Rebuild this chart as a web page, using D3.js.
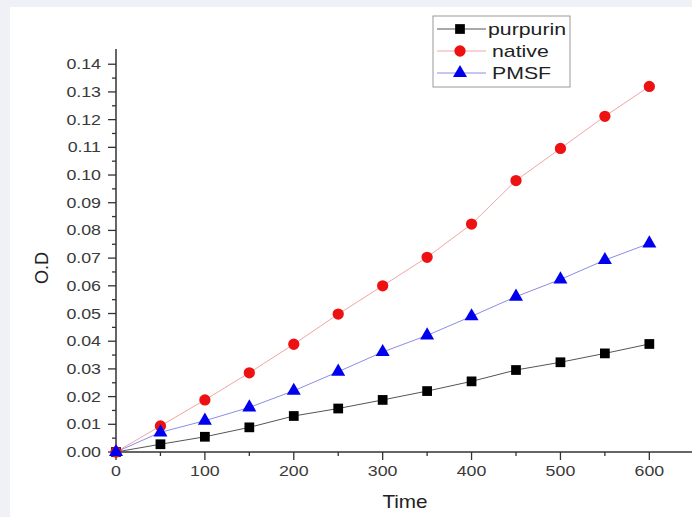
<!DOCTYPE html>
<html><head><meta charset="utf-8">
<script src="https://cdn.jsdelivr.net/npm/d3@7"></script>
<style>
html,body{margin:0;padding:0;background:#f0f1f6;}
svg{display:block;}
</style></head>
<body>
<svg id="chart" width="692" height="517"></svg>
<script>
const times = [0, 50, 100, 150, 200, 250, 300, 350, 400, 450, 500, 550, 600];
const purpurin = [0, 0.0028, 0.0055, 0.0089, 0.0130, 0.0157, 0.0188, 0.0220, 0.0255, 0.0296, 0.0324, 0.0356, 0.0390];
const native = [0, 0.0094, 0.0188, 0.0286, 0.0389, 0.0498, 0.0600, 0.0703, 0.0823, 0.0980, 0.1096, 0.1212, 0.1320];
const pmsf = [0, 0.0071, 0.0113, 0.0161, 0.0221, 0.0290, 0.0361, 0.0421, 0.0490, 0.0561, 0.0623, 0.0693, 0.0753];
const seriesNames = ["purpurin", "native", "PMSF"];
const xTicks = [0, 100, 200, 300, 400, 500, 600];
const yTicks = [0, 0.01, 0.02, 0.03, 0.04, 0.05, 0.06, 0.07, 0.08, 0.09, 0.10, 0.11, 0.12, 0.13, 0.14];

const svg = d3.select("#chart");
svg.append("rect").attr("x", 10).attr("y", 7).attr("width", 682).attr("height", 510).attr("fill", "#fff");

const x = d3.scaleLinear().domain([0, 648]).range([116, 692]);
const y = d3.scaleLinear().domain([0, 0.1455]).range([452, 49]);

const axisColor = "#333";
const font = "'Liberation Sans', Arial, sans-serif";
const SX = 1.27;

// Y axis
const gy = svg.append("g").attr("transform", "translate(116,0)");
gy.append("line").attr("x1", 0).attr("x2", 0).attr("y1", y(0.1455)).attr("y2", y(0)).attr("stroke", axisColor).attr("stroke-width", 1.5);
const yMinor = d3.range(0, 29).map(i => i * 0.005);
gy.selectAll("line.ym").data(yMinor).enter().append("line")
  .attr("x1", (d, i) => i % 2 === 0 ? -8 : -4).attr("x2", 0)
  .attr("y1", d => y(d)).attr("y2", d => y(d))
  .attr("stroke", axisColor).attr("stroke-width", 1.3);
gy.selectAll("text").data(yTicks).enter().append("text")
  .attr("transform", d => `translate(-15,${y(d) + 5}) scale(${SX},1)`)
  .attr("text-anchor", "end").attr("font-family", font).attr("font-size", 14).attr("fill", "#3a3a3a")
  .text(d => d3.format(".2f")(d));

// X axis
const gx = svg.append("g").attr("transform", "translate(0,452)");
gx.append("line").attr("x1", x(0)).attr("x2", 692).attr("y1", 0).attr("y2", 0).attr("stroke", axisColor).attr("stroke-width", 1.5);
const xMinor = d3.range(0, 13).map(i => i * 50);
gx.selectAll("line.xm").data(xMinor).enter().append("line")
  .attr("x1", d => x(d)).attr("x2", d => x(d))
  .attr("y1", 0).attr("y2", (d, i) => i % 2 === 0 ? 8 : 4)
  .attr("stroke", axisColor).attr("stroke-width", 1.3);
gx.selectAll("text").data(xTicks).enter().append("text")
  .attr("transform", d => `translate(${x(d)},24) scale(${SX},1)`)
  .attr("text-anchor", "middle").attr("font-family", font).attr("font-size", 14).attr("fill", "#3a3a3a")
  .text(d => d);

// Axis titles
svg.append("text").attr("transform", `translate(405,508) scale(1.15,1)`)
  .attr("text-anchor", "middle").attr("font-family", font).attr("font-size", 18).attr("fill", "#222").text("Time");
svg.append("text").attr("transform", `translate(48,268) rotate(-90)`)
  .attr("text-anchor", "middle").attr("font-family", font).attr("font-size", 18).attr("fill", "#222").text("O.D");

const seriesData = [purpurin, native, pmsf];
const lineColors = ["#555", "#f2a5a5", "#8c8ce6"];
const markColors = ["#000", "#ee1111", "#0000ee"];
const symbols = [d3.symbolSquare, d3.symbolCircle, d3.symbolTriangle];
const symSizes = [95, 100, 85];

const line = d3.line().x((d, i) => x(times[i])).y(d => y(d));
seriesData.forEach((vals, s) => {
  svg.append("path").datum(vals).attr("d", line).attr("fill", "none")
    .attr("stroke", lineColors[s]).attr("stroke-width", 1);
});
seriesData.forEach((vals, s) => {
  svg.selectAll("path.m" + s).data(vals).enter().append("path")
    .attr("d", d3.symbol().type(symbols[s]).size(symSizes[s]))
    .attr("transform", (d, i) => `translate(${x(times[i])},${y(d)})`)
    .attr("fill", markColors[s]);
});

// Legend
const lg = svg.append("g");
lg.append("rect").attr("x", 433).attr("y", 16).attr("width", 137).attr("height", 71)
  .attr("fill", "#fff").attr("stroke", "#999").attr("stroke-width", 1);
seriesNames.forEach((name, s) => {
  const cy = 29 + s * 22;
  lg.append("line").attr("x1", 437).attr("x2", 486).attr("y1", cy).attr("y2", cy)
    .attr("stroke", lineColors[s]).attr("stroke-width", 1);
  lg.append("path").attr("d", d3.symbol().type(symbols[s]).size(symSizes[s]))
    .attr("transform", `translate(460,${cy})`).attr("fill", markColors[s]);
  lg.append("text").attr("transform", `translate(${s === 0 ? 488 : 492},${cy + 6}) scale(1.33,1)`)
    .attr("font-family", font).attr("font-size", 16).attr("fill", "#222").text(name);
});
</script>
</body></html>
